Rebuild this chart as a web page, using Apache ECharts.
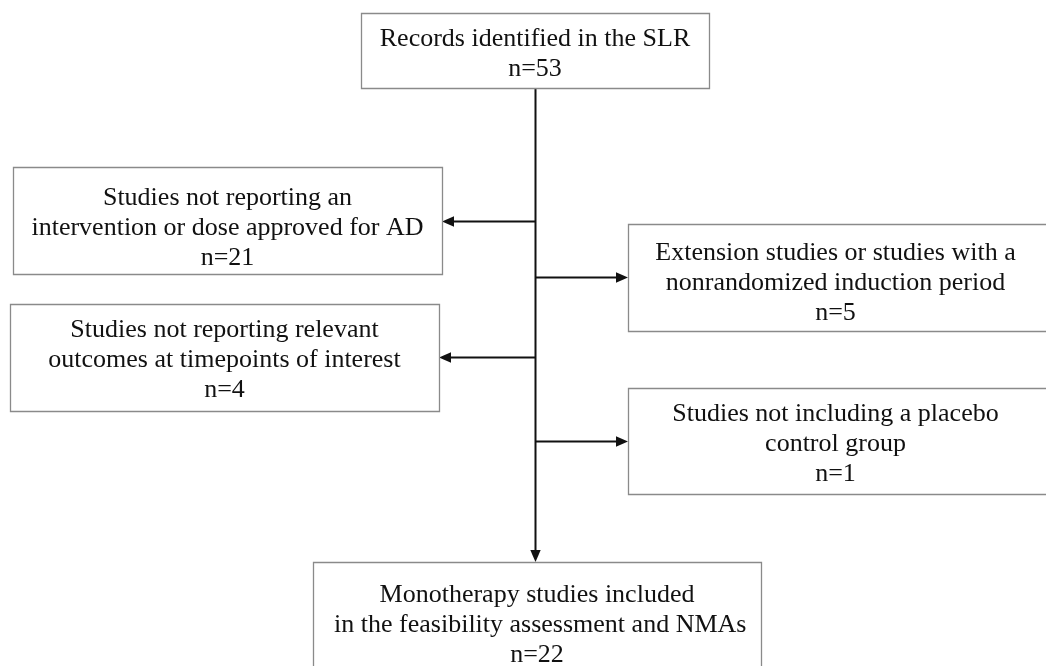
<!DOCTYPE html>
<html>
<head>
<meta charset="utf-8">
<script src="https://cdn.jsdelivr.net/npm/echarts@6/dist/echarts.min.js"></script>
<style>
html,body{margin:0;padding:0;background:#fff;}
#chart{width:1046px;height:666px;}
</style>
</head>
<body>
<div id="chart"></div>
<script>
// ---- content ----
var boxTitles = [
  ["Records identified in the SLR"],
  ["Studies not reporting an", "intervention or dose approved for AD"],
  ["Extension studies or studies with a", "nonrandomized induction period"],
  ["Studies not reporting relevant", "outcomes at timepoints of interest"],
  ["Studies not including a placebo", "control group"],
  ["Monotherapy studies included", " in the feasibility assessment and NMAs"]
];
var boxCounts = [53, 21, 5, 4, 1, 22];

// ---- layout (diagram coordinates, y downward) ----
var boxLayout = [
  // x0, y0, x1, y1, textCenterY
  [361, 13, 709, 88, 54],
  [13, 167, 442, 274, 228],
  [628, 224, 1052, 331, 283],
  [10, 304, 439, 411, 360],
  [628, 388, 1052, 494, 444],
  [313, 562, 761, 676, 625]
];
var arrowLayout = [
  // x1, y1, x2, y2 (arrowhead at x2,y2)
  [535.5, 88, 535.5, 562],
  [535.5, 221.5, 442, 221.5],
  [535.5, 277.5, 628, 277.5],
  [535.5, 357.5, 439, 357.5],
  [535.5, 441.5, 628, 441.5]
];

var FONT = '"Liberation Serif","Times New Roman",serif';
var FS = 26, LH = 30;

var boxData = boxLayout.map(function (b, i) { return [b[0], b[1], b[2], b[3], b[4], i]; });

var chart = echarts.init(document.getElementById('chart'), null, {renderer: 'canvas'});
chart.setOption({
  animation: false,
  grid: {left: 0, right: 0, top: 0, bottom: 0},
  xAxis: {type: 'value', min: 0, max: 1046, show: false},
  yAxis: {type: 'value', min: 0, max: 666, inverse: true, show: false},
  series: [
    {
      type: 'custom',
      coordinateSystem: 'cartesian2d',
      clip: false,
      data: arrowLayout,
      renderItem: function (params, api) {
        var p1 = api.coord([api.value(0), api.value(1)]);
        var p2 = api.coord([api.value(2), api.value(3)]);
        var dx = p2[0] - p1[0], dy = p2[1] - p1[1];
        var len = Math.sqrt(dx * dx + dy * dy);
        var ux = dx / len, uy = dy / len;
        var hl = 12, hw = 5.2;
        var bx = p2[0] - ux * hl, by = p2[1] - uy * hl;
        return {
          type: 'group',
          children: [
            {type: 'line', shape: {x1: p1[0], y1: p1[1], x2: bx + ux, y2: by + uy},
             style: {stroke: '#111', lineWidth: 2}},
            {type: 'polygon', shape: {points: [
              [p2[0], p2[1]],
              [bx - uy * hw, by + ux * hw],
              [bx + uy * hw, by - ux * hw]
            ]}, style: {fill: '#111'}}
          ]
        };
      },
      z: 1
    },
    {
      type: 'custom',
      coordinateSystem: 'cartesian2d',
      clip: false,
      data: boxData,
      renderItem: function (params, api) {
        var i = api.value(5);
        var a = api.coord([api.value(0), api.value(1)]);
        var b = api.coord([api.value(2), api.value(3)]);
        var tc = api.coord([0, api.value(4)]);
        var lines = boxTitles[i].concat(['n=' + boxCounts[i]]);
        var cx = (a[0] + Math.min(b[0], 1043)) / 2;
        var children = [{
          type: 'rect',
          shape: {x: a[0] + 0.5, y: a[1] + 0.5, width: b[0] - a[0], height: b[1] - a[1]},
          style: {fill: '#fff', stroke: '#8a8a8a', lineWidth: 1.3}
        }];
        var y0 = tc[1] - (lines.length - 1) * LH / 2;
        lines.forEach(function (t, k) {
          children.push({
            type: 'text',
            style: {
              text: t, x: cx, y: y0 + k * LH,
              textAlign: 'center', textVerticalAlign: 'middle',
              font: FS + 'px ' + FONT, fill: '#111'
            }
          });
        });
        return {type: 'group', children: children};
      },
      z: 2
    }
  ]
});
</script>
</body>
</html>
